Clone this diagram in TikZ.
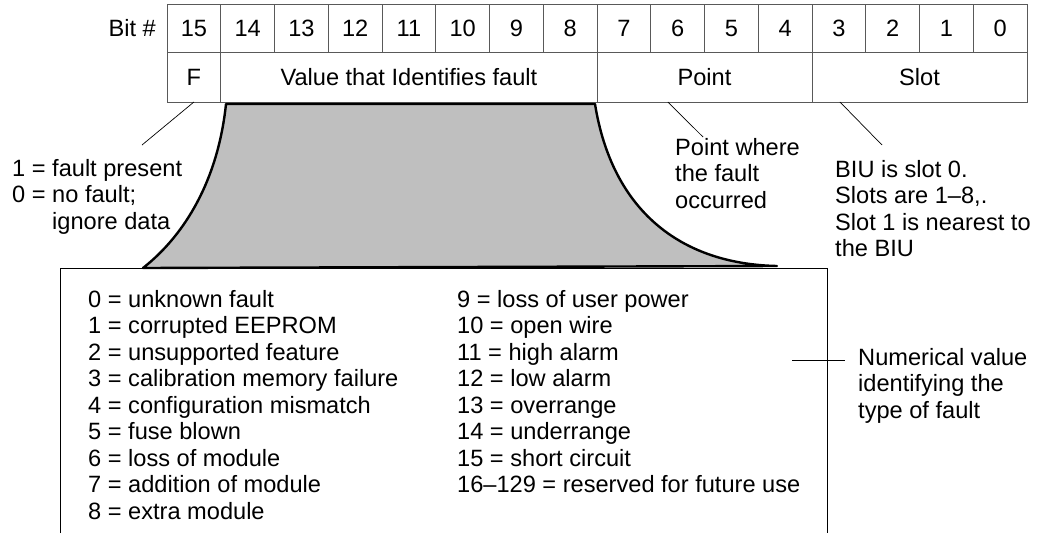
\documentclass[tikz,border=0pt]{standalone}
\usepackage{fontspec}
\setmainfont{Liberation Sans}
\usetikzlibrary{positioning,calc}

\begin{document}
\begin{tikzpicture}[x=1pt, y=-1pt,
  txt/.style={font=\fontsize{23.6}{26.5}\selectfont, inner sep=0pt},
  bitcell/.style={txt, draw=gray!70!black, line width=0.9pt, minimum width=53.75pt,
                  minimum height=48pt, outer sep=0pt},
  field/.style={bitcell, minimum height=50pt},
  note/.style={txt, align=left, anchor=north west},
  item/.style={txt, anchor=base west},
  lead/.style={line width=0.7pt},
  wedge/.style={draw, line width=2.4pt, fill=black!25, line join=round},
]
\useasboundingbox (0,0) rectangle (1043,533);

% register layout
\foreach \b [count=\i from 0] in {15,14,...,0}{
  \node[bitcell] (bit\b) at ({167+(\i+0.5)*53.75},28) {\b};
}
\node[txt, left=11pt of bit15] (bitlbl) {Bit \#};

\node[field, minimum width=53.75pt]  (flag)  at (193.9,77) {F};
\node[field, minimum width=376.25pt] (value) at (408.9,77) {Value that Identifies fault};
\node[field, minimum width=215pt]    (point) at (704.5,77) {Point};
\node[field, minimum width=215pt]    (slot)  at (919.5,77) {Slot};

% list of fault values
\draw[line width=1pt] (60,533) -- (60,268.5) -- (827,268.5) -- (827,533);
\draw[wedge] (226,104) .. controls (218,180) and (185,235) .. (143,268)
  -- (777,266) .. controls (680,264) and (612,210) .. (595,104) -- cycle;

\foreach \t [count=\i from 0] in {unknown fault, corrupted EEPROM, unsupported feature,
    calibration memory failure, configuration mismatch, fuse blown, loss of module,
    addition of module, extra module}{
  \node[item] (lo\i) at (88,{307+26.5*\i}) {\i{} = \t};
}
\foreach \n/\t [count=\i from 0] in {9/loss of user power, 10/open wire, 11/high alarm,
    12/low alarm, 13/overrange, 14/underrange, 15/short circuit,
    16--129/reserved for future use}{
  \node[item] (hi\i) at (457,{307+26.5*\i}) {\n{} = \t};
}

% notes
\node[note] (flagnote) at (12,158.8)
  {1 = fault present\\0 = no fault;\\\phantom{0 = }ignore data};
\node[note] (pointnote) at (675,137.8) {Point where\\the fault\\occurred};
\node[note] (slotnote) at (835,159.8)
  {BIU is slot 0.\\Slots are 1--8,.\\Slot 1 is nearest to\\the BIU};
\node[note] (valnote) at (858,347.8) {Numerical value\\identifying the\\type of fault};

\coordinate (flagtip) at (142,145);
\coordinate (pointtip) at (703,137);
\coordinate (slottip) at (882,145);
\coordinate (valtip) at (792,360);
\draw[lead] (flagtip) -- (flag.south);
\draw[lead] ($(point.south west)!.33!(point.south east)$) -- (pointtip);
\draw[lead] ($(slot.south west)!.13!(slot.south east)$) -- (slottip);
\draw[lead] (valtip) -- ($(valtip -| valnote.west)+(-13pt,0)$);
\end{tikzpicture}
\end{document}
